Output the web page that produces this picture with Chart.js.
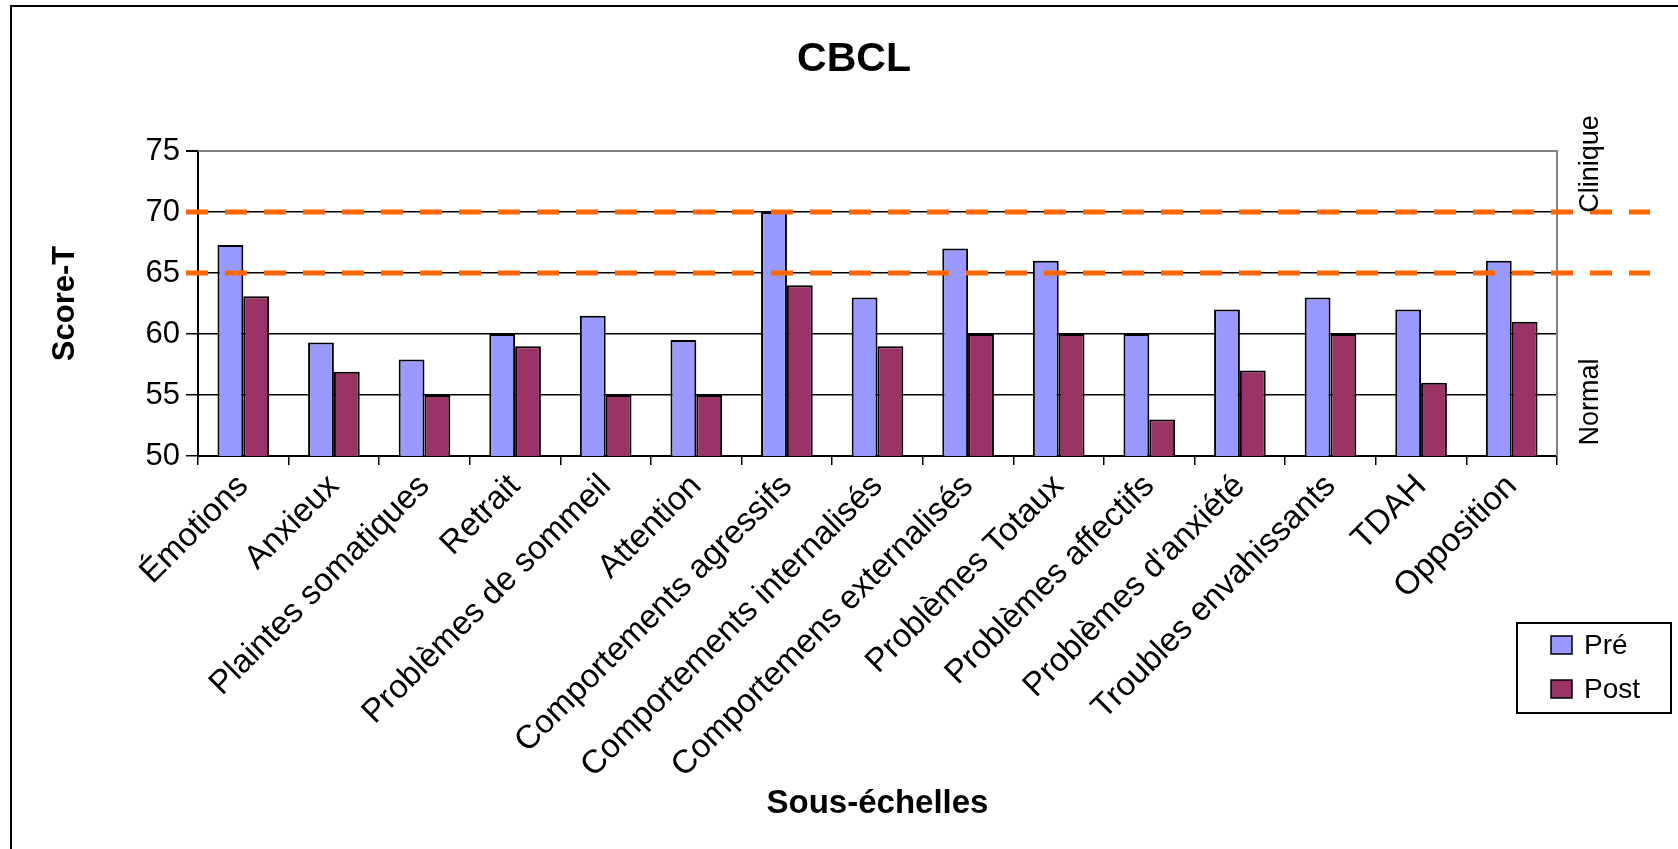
<!DOCTYPE html>
<html>
<head>
<meta charset="utf-8">
<script src="https://cdn.jsdelivr.net/npm/chart.js@4.4.1/dist/chart.umd.min.js"></script>
<style>
  html, body { margin: 0; padding: 0; background: #fff; }
  canvas { display: block; }
</style>
</head>
<body>
<canvas id="chart" width="1678" height="849"></canvas>
<script>
const categories = [
  'Émotions',
  'Anxieux',
  'Plaintes somatiques',
  'Retrait',
  'Problèmes de sommeil',
  'Attention',
  'Comportements agressifs',
  'Comportements internalisés',
  'Comportemens externalisés',
  'Problèmes Totaux',
  'Problèmes affectifs',
  "Problèmes d'anxiété",
  'Troubles envahissants',
  'TDAH',
  'Opposition'
];
const preValues = [67.3, 59.3, 57.9, 60, 61.5, 59.5, 70, 63, 67, 66, 60, 62, 63, 62, 66];
const postValues = [63.1, 56.9, 55, 59, 55, 55, 64, 59, 60, 60, 53, 57, 60, 56, 61];
const seriesNames = ['Pré', 'Post'];
const seriesColors = ['#9999ff', '#993366'];
const thresholds = [70, 65];
const zoneLabels = ['Clinique', 'Normal'];

const FONT = '"Liberation Sans", Arial, sans-serif';

// bordure, lignes de seuil, légende, titre
const extras = {
  id: 'extras',
  beforeDraw(chart) {
    const ctx = chart.ctx;
    ctx.save();
    ctx.fillStyle = '#fff';
    ctx.fillRect(0, 0, chart.width, chart.height);
    ctx.strokeStyle = '#000';
    ctx.lineWidth = 2;
    ctx.strokeRect(11, 6, chart.width + 20, chart.height + 20);
    ctx.restore();
  },
  afterDatasetsDraw(chart) {
    const { ctx, chartArea, scales: { y } } = chart;
    ctx.save();
    ctx.strokeStyle = '#808080';
    ctx.lineWidth = 2;
    ctx.beginPath();
    ctx.moveTo(chartArea.left, chartArea.top);
    ctx.lineTo(chartArea.right, chartArea.top);
    ctx.lineTo(chartArea.right, chartArea.bottom);
    ctx.stroke();

    ctx.strokeStyle = '#ff6600';
    ctx.lineWidth = 5;
    ctx.setLineDash([22, 17]);
    thresholds.forEach(v => {
      const py = y.getPixelForValue(v);
      ctx.beginPath();
      ctx.moveTo(186, py);
      ctx.lineTo(1650, py);
      ctx.stroke();
    });
    ctx.restore();
  },
  afterDraw(chart) {
    const ctx = chart.ctx;
    ctx.save();
    ctx.fillStyle = '#000';

    // titre
    ctx.font = 'bold 41px ' + FONT;
    ctx.textAlign = 'center';
    ctx.textBaseline = 'middle';
    ctx.fillText('CBCL', 854, 60);

    // zones
    ctx.font = '27px ' + FONT;
    [[zoneLabels[0], 164], [zoneLabels[1], 402]].forEach(([t, cy]) => {
      ctx.save();
      ctx.translate(1591, cy);
      ctx.rotate(-Math.PI / 2);
      ctx.fillText(t, 0, 0);
      ctx.restore();
    });

    // légende
    ctx.lineWidth = 2;
    ctx.strokeStyle = '#000';
    ctx.strokeRect(1517, 623, 154, 90);
    ctx.font = '28px ' + FONT;
    ctx.textAlign = 'left';
    seriesNames.forEach((name, i) => {
      const sy = 636 + i * 44;
      ctx.fillStyle = seriesColors[i];
      ctx.fillRect(1551, sy, 21, 18);
      ctx.lineWidth = 1.5;
      ctx.strokeRect(1551, sy, 21, 18);
      ctx.fillStyle = '#000';
      ctx.fillText(name, 1584, sy + 10);
    });
    ctx.restore();
  }
};

const ctx = document.getElementById('chart');
new Chart(ctx, {
  type: 'bar',
  data: {
    labels: categories,
    datasets: [
      {
        label: seriesNames[0],
        data: preValues,
        backgroundColor: seriesColors[0],
        borderColor: '#000',
        borderWidth: 2,
        borderSkipped: false,
        barPercentage: 1,
        categoryPercentage: 0.57
      },
      {
        label: seriesNames[1],
        data: postValues,
        backgroundColor: seriesColors[1],
        borderColor: '#000',
        borderWidth: 2,
        borderSkipped: false,
        barPercentage: 1,
        categoryPercentage: 0.57
      }
    ]
  },
  options: {
    responsive: false,
    animation: false,
    layout: { padding: { top: 151, right: 121, bottom: 25, left: 0 } },
    plugins: {
      legend: { display: false },
      title: { display: false },
      tooltip: { enabled: false }
    },
    scales: {
      x: {
        grid: { offset: true, drawOnChartArea: false, drawTicks: true, tickLength: 9, color: '#000', lineWidth: 1.5 },
        border: { color: '#000', width: 2 },
        ticks: {
          color: '#000',
          font: { family: FONT, size: 33 },
          minRotation: 45,
          maxRotation: 45,
          autoSkip: false,
          padding: 2
        },
        title: {
          display: true,
          text: 'Sous-échelles',
          color: '#000',
          font: { family: FONT, size: 33, weight: 'bold' },
          padding: { top: 0, bottom: 0 }
        },
        afterFit(scale) { scale.height = 368; }
      },
      y: {
        min: 50,
        max: 75,
        ticks: { stepSize: 5, color: '#000', font: { family: FONT, size: 31 }, padding: 6 },
        grid: {
          color: c => (c.tick && c.tick.value === 75 ? '#808080' : '#000'),
          tickColor: '#000',
          lineWidth: c => (c.tick && c.tick.value === 75 ? 2 : 1.5),
          tickLength: 12
        },
        border: { color: '#000', width: 2 },
        title: {
          display: true,
          text: 'Score-T',
          color: '#000',
          font: { family: FONT, size: 31, weight: 'bold' },
          padding: { top: 47, bottom: 0 }
        },
        afterFit(scale) { scale.width = 198; }
      }
    }
  },
  plugins: [extras]
});
</script>
</body>
</html>
